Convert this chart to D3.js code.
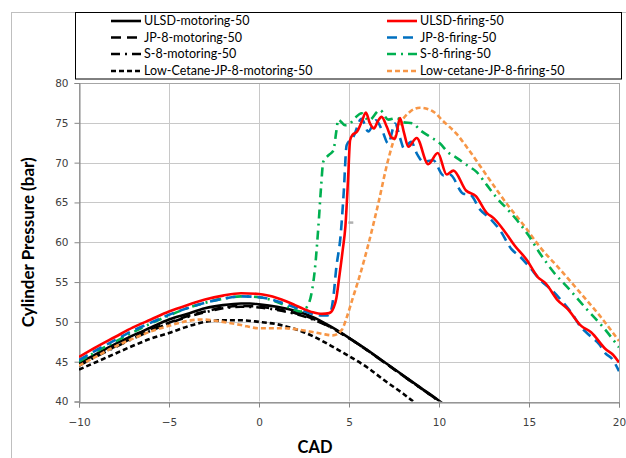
<!DOCTYPE html>
<html>
<head>
<meta charset="utf-8">
<script src="https://cdn.jsdelivr.net/npm/d3@7"></script>
<style>
  body { margin: 0; background: #fff; }
  svg { display: block; }
</style>
</head>
<body>
<script>
var w = 626;
var h = 458;

// axis ticks
var xTicks = [-10, -5, 0, 5, 10, 15, 20];
var yTicks = [40, 45, 50, 55, 60, 65, 70, 75, 80];

// [CAD, pressure bar]
var ulsdMotoring = [[-10,44.8],[-9,46.0],[-8,47.2],[-7,48.3],[-6,49.3],[-5,50.3],[-4,51.0],[-3,51.7],[-2,52.1],[-1,52.3],[-0.5,52.3],[0,52.2],[1,51.9],[2,51.4],[3,50.6],[4,49.4],[5,48.0],[6,46.5],[7,44.9],[8,43.3],[9,41.7],[10,40.1],[10.4,39.4]];
var jp8Motoring = [[-10,44.6],[-9,45.8],[-8,46.9],[-7,48.0],[-6,49.0],[-5,49.9],[-4,50.7],[-3,51.3],[-2,51.8],[-1,52.0],[0,51.9],[1,51.6],[2,51.1],[3,50.4],[4,49.3],[5,47.95],[6,46.45],[7,44.85],[8,43.25],[9,41.65],[10,40.05],[10.4,39.4]];
var s8Motoring = [[-10,44.5],[-9,45.7],[-8,46.8],[-7,47.9],[-6,48.9],[-5,49.8],[-4,50.6],[-3,51.2],[-2,51.7],[-1,51.9],[0,51.8],[1,51.5],[2,51.0],[3,50.3],[4,49.3],[5,47.95],[6,46.45],[7,44.85],[8,43.25],[9,41.65],[10,40.05],[10.4,39.4]];
var lowCetaneMotoring = [[-10,44.0],[-9,45.0],[-8,46.0],[-7,47.0],[-6,47.9],[-5,48.6],[-4,49.4],[-3,50.0],[-2,50.2],[-1,50.2],[0,50.0],[1,49.7],[2,49.1],[3,48.2],[4,47.0],[5,45.7],[6,44.3],[7,42.6],[8,41.0],[9,39.2]];

var ulsdFiring = [[-10,45.6],[-9,46.9],[-8,48.1],[-7,49.3],[-6,50.3],[-5,51.3],[-4,52.1],[-3,52.8],[-2,53.3],[-1,53.6],[0,53.5],[0.5,53.3],[1,53.0],[1.5,52.6],[2,52.1],[2.5,51.6],[3,51.2],[3.5,51.0],[3.9,51.1],[4.15,51.8],[4.3,53.0],[4.45,55.5],[4.65,59.0],[4.8,62.0],[4.95,68.0],[5.06,72.8],[5.2,73.5],[5.45,73.9],[5.7,75.1],[5.94,76.3],[6.15,75.0],[6.39,74.3],[6.6,75.2],[6.81,75.75],[7.1,74.5],[7.35,73.2],[7.56,73.0],[7.83,75.6],[8.05,73.8],[8.3,72.0],[8.76,73.1],[9.4,69.8],[9.93,71.2],[10.43,68.5],[10.8,69.0],[11.5,66.5],[12.05,65.8],[12.65,63.7],[13.05,63.0],[13.7,61.2],[14.2,59.6],[14.87,57.8],[15.5,55.6],[15.9,54.9],[16.6,52.7],[17.15,51.6],[17.9,49.5],[18.45,48.7],[19.25,46.6],[19.7,45.8],[20,44.9]];
var jp8Firing = [[-10,45.2],[-9,46.5],[-8,47.7],[-7,48.9],[-6,49.9],[-5,50.9],[-4,51.7],[-3,52.4],[-2,52.9],[-1,53.2],[0,53.1],[1,52.6],[2,51.8],[3,51.0],[3.5,50.8],[3.8,50.8],[4.0,51.4],[4.15,53.5],[4.28,56.5],[4.54,61.0],[4.7,66.0],[4.87,72.2],[5.24,73.25],[5.7,75.5],[6.07,73.9],[6.5,75.3],[6.85,74.0],[7.18,72.4],[7.56,74.9],[7.85,73.0],[8.05,71.8],[8.45,72.6],[8.8,71.0],[9.13,70.1],[9.68,70.3],[10.24,68.4],[10.6,68.5],[11.35,66.1],[11.72,66.0],[12.28,64.1],[12.83,63.0],[13.39,61.5],[14.04,59.1],[14.5,58.2],[15.06,56.8],[15.61,55.3],[16.3,53.9],[16.91,52.4],[17.4,51.0],[17.83,49.5],[18.39,48.25],[18.9,47.2],[19.26,46.0],[19.6,45.4],[20,43.8]];
var s8Firing = [[-10,45.0],[-9,46.3],[-8,47.5],[-7,48.7],[-6,49.8],[-5,50.8],[-4,51.7],[-3,52.4],[-2,52.9],[-1,53.2],[0,53.1],[1,52.5],[1.8,51.7],[2.3,51.3],[2.7,52.0],[2.95,54.0],[3.1,56.5],[3.3,62.0],[3.45,67.0],[3.57,70.1],[3.9,71.0],[4.13,71.5],[4.3,74.0],[4.4,75.4],[4.78,74.7],[5.0,74.8],[5.33,75.6],[5.7,76.2],[6.1,75.3],[6.72,76.6],[7.18,75.4],[7.65,75.6],[8.0,75.1],[8.57,74.9],[8.94,74.1],[9.5,73.25],[10.06,72.4],[10.5,71.3],[10.98,70.6],[11.54,69.7],[12.1,68.8],[12.65,67.2],[13.2,65.6],[13.94,63.8],[14.5,62.3],[14.96,60.9],[15.61,58.6],[16.35,56.3],[17.28,54.0],[18.2,51.6],[19.13,49.3],[20,46.8]];
var lowCetaneFiring = [[-10,44.5],[-9,45.7],[-8,46.9],[-7,47.9],[-6,48.8],[-5,49.5],[-4,50.1],[-3.2,50.3],[-2,50.0],[-1,49.6],[0,49.2],[1.3,49.2],[2.8,48.8],[3.5,48.5],[4.1,48.3],[4.6,49.0],[4.85,50.4],[5.17,52.7],[5.61,55.9],[6.06,59.6],[6.61,64.7],[7.17,70.3],[7.72,74.3],[8.39,76.4],[8.94,76.9],[9.68,76.4],[10.24,75.2],[10.98,73.6],[11.72,71.4],[12.46,69.0],[13.2,66.6],[13.94,64.3],[14.69,62.2],[15.61,59.4],[16.72,56.6],[17.83,53.7],[18.94,50.75],[20,47.6]];

// little grey mark that sits in the original picture
var strayMark = [[5.1, 62.5]];

var series = [
  { name: "ULSD-motoring-50", data: ulsdMotoring, color: "#000", dash: null, col: 0, row: 0 },
  { name: "JP-8-motoring-50", data: jp8Motoring, color: "#000", dash: "10,6", col: 0, row: 1 },
  { name: "S-8-motoring-50", data: s8Motoring, color: "#000", dash: "9,5,2,5", col: 0, row: 2 },
  { name: "Low-Cetane-JP-8-motoring-50", data: lowCetaneMotoring, color: "#000", dash: "5,3", col: 0, row: 3 },
  { name: "Low-cetane-JP-8-firing-50", data: lowCetaneFiring, color: "#F79646", dash: "5,3", col: 1, row: 3 },
  { name: "S-8-firing-50", data: s8Firing, color: "#00B050", dash: "9,5,2,5", col: 1, row: 2 },
  { name: "JP-8-firing-50", data: jp8Firing, color: "#0070C0", dash: "10,6", col: 1, row: 1 },
  { name: "ULSD-firing-50", data: ulsdFiring, color: "#FF0000", dash: null, col: 1, row: 0 }
];

var x = d3.scaleLinear().domain([-10, 20]).range([79, 619]);
var y = d3.scaleLinear().domain([40, 80]).range([401.5, 83]);

var svg = d3.select("body").append("svg")
  .attr("width", w)
  .attr("height", h);

// chart area frame
svg.append("rect")
  .attr("x", 11.5).attr("y", 12.5)
  .attr("width", 700).attr("height", 500)
  .attr("fill", "#fff")
  .attr("stroke", "#bfbfbf");

// gridlines
svg.append("g").selectAll("line")
  .data(yTicks).enter().append("line")
  .attr("x1", x(-10)).attr("x2", x(20))
  .attr("y1", function(d) { return Math.round(y(d)) + 0.5; })
  .attr("y2", function(d) { return Math.round(y(d)) + 0.5; })
  .attr("stroke", "#c8c8c8");
svg.append("g").selectAll("line")
  .data(xTicks).enter().append("line")
  .attr("y1", y(80)).attr("y2", y(40))
  .attr("x1", function(d) { return Math.round(x(d)) + 0.5; })
  .attr("x2", function(d) { return Math.round(x(d)) + 0.5; })
  .attr("stroke", "#c8c8c8");

// plot frame
svg.append("rect")
  .attr("x", x(-10) + 0.5).attr("y", Math.round(y(80)) + 0.5)
  .attr("width", x(20) - x(-10)).attr("height", Math.round(y(40)) - Math.round(y(80)))
  .attr("fill", "none")
  .attr("stroke", "#a6a6a6");

// axes
var yAxis = svg.append("g")
  .attr("transform", "translate(" + (x(-10) + 0.5) + ",0)")
  .call(d3.axisLeft(y).tickValues(yTicks).tickSize(5).tickPadding(6));
var xAxis = svg.append("g")
  .attr("transform", "translate(0," + (Math.round(y(40)) + 0.5) + ")")
  .call(d3.axisBottom(x).tickValues(xTicks).tickSize(5).tickPadding(11));

[xAxis, yAxis].forEach(function(a) {
  a.select(".domain").attr("stroke", "#868686");
  a.selectAll(".tick line").attr("stroke", "#868686");
  a.selectAll(".tick text")
    .attr("fill", "#404040")
    .attr("font-family", "DejaVu Sans, Verdana, sans-serif")
    .attr("font-size", 10.5);
});

// axis titles
svg.append("text")
  .attr("transform", "translate(34," + ((y(80) + y(40)) / 2) + ") rotate(-90)")
  .attr("text-anchor", "middle")
  .attr("font-family", "Lato, sans-serif")
  .attr("font-weight", "bold")
  .attr("font-size", 17)
  .attr("fill", "#000")
  .text("Cylinder Pressure (bar)");

svg.append("text")
  .attr("x", (x(-10) + x(20)) / 2 - 34)
  .attr("y", 453)
  .attr("text-anchor", "middle")
  .attr("font-family", "Lato, sans-serif")
  .attr("font-weight", "bold")
  .attr("font-size", 16.5)
  .attr("fill", "#000")
  .text("CAD");

// curves, clipped to plot area
svg.append("clipPath").attr("id", "plotClip")
  .append("rect")
  .attr("x", x(-10)).attr("y", y(80))
  .attr("width", x(20) - x(-10)).attr("height", y(40) - y(80));

var line = d3.line()
  .x(function(d) { return x(d[0]); })
  .y(function(d) { return y(d[1]); })
  .curve(d3.curveMonotoneX);

svg.append("g").attr("clip-path", "url(#plotClip)")
  .selectAll("path")
  .data(series).enter().append("path")
  .attr("d", function(d) { return line(d.data); })
  .attr("fill", "none")
  .attr("stroke", function(d) { return d.color; })
  .attr("stroke-width", 2.6)
  .attr("stroke-dasharray", function(d) { return d.dash; });

svg.selectAll(".stray")
  .data(strayMark).enter().append("rect")
  .attr("class", "stray")
  .attr("x", function(d) { return x(d[0]) - 2.5; })
  .attr("y", function(d) { return y(d[1]) - 1; })
  .attr("width", 5).attr("height", 2.5)
  .attr("fill", "#b0b0b0");

// legend
svg.append("rect")
  .attr("x", 75.5).attr("y", 12.5)
  .attr("width", 546).attr("height", 66.5)
  .attr("fill", "#fff")
  .attr("stroke", "#000");

var legendCols = [111, 387];
var legendRows = [21, 37.5, 54, 71];

var lg = svg.append("g").selectAll("g")
  .data(series).enter().append("g")
  .attr("transform", function(d) { return "translate(" + legendCols[d.col] + "," + legendRows[d.row] + ")"; });

lg.append("line")
  .attr("x1", 0).attr("x2", 30)
  .attr("stroke", function(d) { return d.color; })
  .attr("stroke-width", 2.6)
  .attr("stroke-dasharray", function(d) { return d.dash; });

lg.append("text")
  .attr("x", 33)
  .attr("dy", "0.35em")
  .attr("font-family", "Lato, sans-serif")
  .attr("font-size", 12.5)
  .attr("fill", "#000")
  .text(function(d) { return d.name; });
</script>
</body>
</html>
